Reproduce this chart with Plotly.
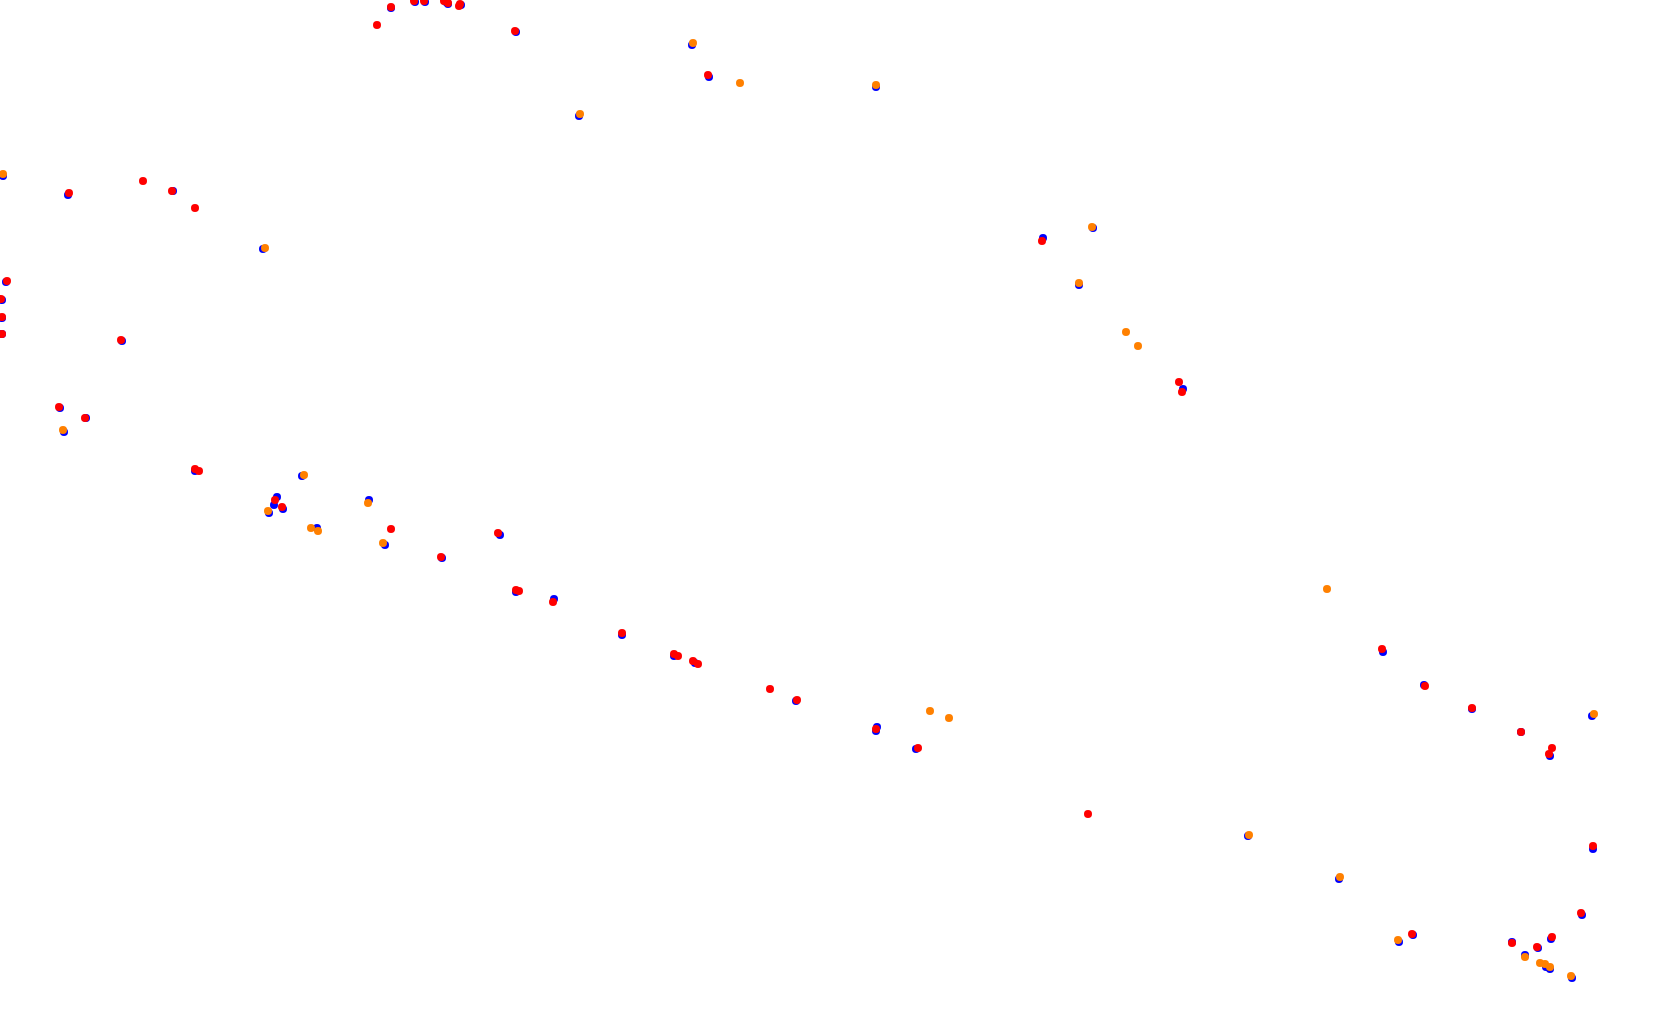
import plotly.graph_objects as go

# Track positions (x along, y down)
blue_x = [391, 415, 425, 446, 448, 461, 516, 692, 709, 876, 579,
          3, 68, 173, 263, 6, 2, 2, 2, 122,
          60, 86, 64, 195, 302, 277, 274, 283, 269, 369, 317, 385,
          442, 500, 516, 554, 622, 674, 695, 796, 877, 876, 916,
          1043, 1093, 1079, 1183,
          1383, 1424, 1472, 1521, 1550, 1592, 1593,
          1248, 1339, 1399, 1413, 1512, 1538, 1551, 1582, 1525, 1550, 1546, 1572]
blue_y = [8, 2, 2, 2, 4, 5, 32, 45, 77, 87, 116,
          176, 195, 191, 249, 282, 300, 318, 334, 341,
          408, 418, 432, 471, 476, 497, 505, 509, 513, 500, 528, 545,
          558, 535, 592, 599, 635, 656, 663, 701, 727, 731, 749,
          238, 228, 285, 389,
          652, 685, 709, 732, 756, 716, 849,
          836, 879, 942, 935, 942, 948, 939, 915, 955, 969, 967, 978]

orange_x = [693, 740, 876, 580, 3, 265, 63, 304, 268, 368, 311, 318, 383,
            930, 949, 1092, 1079, 1126, 1138, 1327, 1594,
            1249, 1340, 1398, 1525, 1540, 1545, 1550, 1571]
orange_y = [43, 83, 85, 114, 174, 248, 430, 475, 511, 503, 528, 531, 543,
            711, 718, 227, 283, 332, 346, 589, 714,
            835, 877, 940, 957, 963, 964, 967, 976]

red_x = [377, 391, 414, 424, 444, 448, 460, 459, 515, 708,
         69, 143, 172, 195, 7, 1, 2, 2, 121,
         59, 85, 195, 199, 275, 282, 391,
         441, 498, 516, 519, 553, 622, 674, 678, 693, 698, 770, 797, 876, 918,
         1042, 1179, 1182,
         1382, 1425, 1472, 1521, 1552, 1549, 1593,
         1088, 1412, 1512, 1537, 1552, 1581]
red_y = [25, 7, 1, 1, 1, 3, 4, 6, 31, 75,
         193, 181, 191, 208, 281, 299, 317, 334, 340,
         407, 418, 469, 471, 500, 507, 529,
         557, 533, 590, 591, 602, 633, 654, 656, 661, 664, 689, 700, 729, 748,
         241, 382, 392,
         649, 686, 708, 732, 748, 754, 846,
         814, 934, 943, 947, 937, 913]

series = [
    ("blue", blue_x, blue_y, "#0000ff"),
    ("orange", orange_x, orange_y, "#ff8000"),
    ("red", red_x, red_y, "#ff0000"),
]

fig = go.Figure()
for name, xs, ys, col in series:
    fig.add_trace(go.Scatter(x=xs, y=ys, mode="markers", name=name,
                             marker=dict(color=col, size=8, line=dict(width=0))))

fig.update_layout(
    width=1680, height=1027,
    margin=dict(l=0, r=0, t=0, b=0, pad=0),
    paper_bgcolor="white", plot_bgcolor="white",
    showlegend=False,
    xaxis=dict(visible=False, range=[0, 1680]),
    yaxis=dict(visible=False, range=[1027, 0]),
)
fig.write_html("out.html",
               config={"displayModeBar": False},
               post_script="document.body.style.margin='0';document.body.style.overflow='hidden';")
